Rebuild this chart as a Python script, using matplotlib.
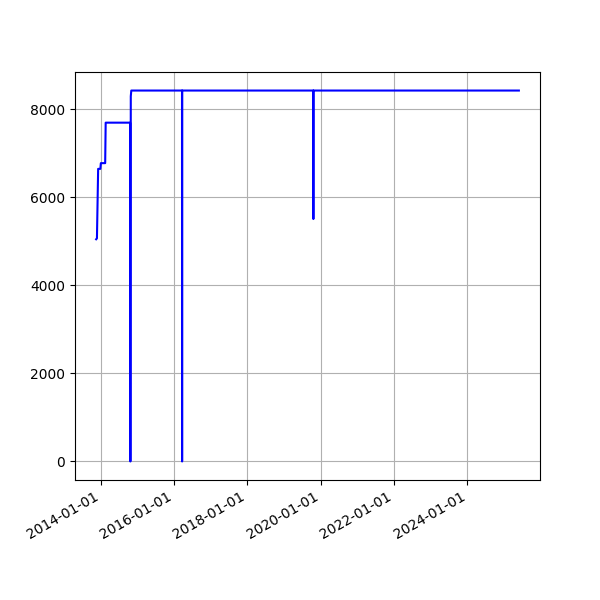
import numpy as np
import pandas as pd
import matplotlib
matplotlib.use("Agg")
import matplotlib.pyplot as plt
import matplotlib.dates as mdates

# values (step-like series with a few dropouts)
dates = pd.to_datetime([
    "2013-11-18", "2013-11-26", "2013-12-08", "2013-12-30", "2014-01-04",
    "2014-02-16", "2014-02-21", "2014-10-22", "2014-10-25", "2014-10-29",
    "2014-11-03", "2016-03-22", "2016-03-23", "2016-03-24", "2019-10-20",
    "2019-10-21", "2019-10-22", "2025-05-28",
])
values = [
    5050, 5070, 6650, 6650, 6780,
    6780, 7700, 7700, 0, 8300,
    8430, 8430, 0, 8430, 8430,
    5510, 8430, 8430,
]

fig = plt.figure(figsize=(6, 6), dpi=100)
ax = fig.add_subplot(111)
ax.plot(dates, values, 'b-')
ax.grid(True)
ax.xaxis.set_major_locator(mdates.YearLocator(2))
ax.xaxis.set_major_formatter(mdates.DateFormatter('%Y-%m-%d'))
fig.autofmt_xdate()

fig.savefig("out.png", dpi=100)
